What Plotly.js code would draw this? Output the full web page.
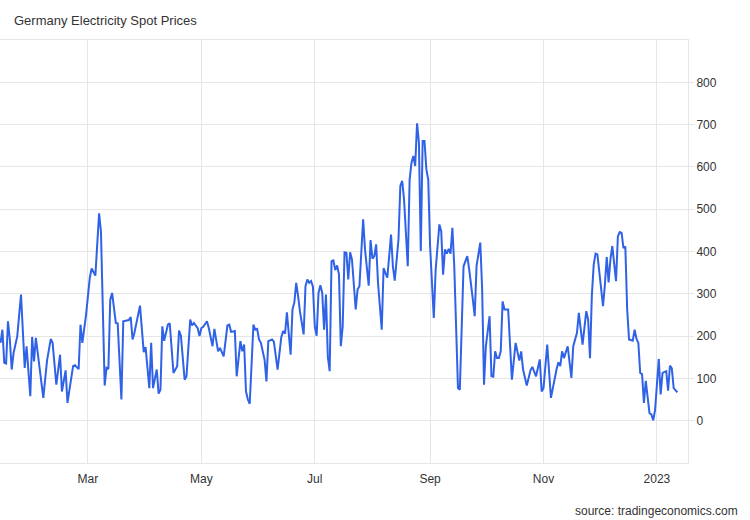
<!DOCTYPE html>
<html>
<head>
<meta charset="utf-8">
<script src="https://cdn.plot.ly/plotly-3.0.1.min.js"></script>
<style>
  html, body { margin: 0; padding: 0; background: #ffffff; }
  #chart { width: 750px; height: 520px; }
</style>
</head>
<body>
<div id="chart"></div>
<script>
// Day number counted from 2022-01-01 (day 0) for each reading
const dayIndex = [
  12,13,14,15,16,17,18,19,21,23,
  25,26,28,29,30,31,35,37,39,40,
  42,44,45,47,48,49,51,52,54,55,
  56,58,60,61,63,65,66,68,69,70,
  71,72,74,75,77,78,81,82,83,84,
  87,89,90,92,93,94,96,97,98,99,
  100,102,103,105,107,108,109,111,112,114,
  115,116,118,119,120,121,123,124,126,127,
  129,130,132,134,135,136,138,139,141,142,
  143,144,145,146,148,149,150,151,152,154,
  155,156,158,159,161,163,164,165,166,168,
  169,170,171,172,173,175,176,177,178,179,
  180,181,182,183,184,185,186,187,188,189,
  190,191,192,193,194,195,196,197,198,199,
  200,201,203,204,205,207,208,210,211,212,
  213,214,215,217,218,219,220,222,223,224,
  226,227,228,229,231,232,233,234,235,236,
  237,238,239,240,241,242,243,245,246,248,
  249,250,251,252,253,254,255,256,258,259,
  260,261,263,264,266,267,268,270,271,272,
  273,275,276,277,278,279,280,281,282,283,
  285,287,289,291,292,293,295,297,298,300,
  302,303,304,306,308,310,311,312,313,314,
  315,317,319,320,322,323,324,325,327,328,
  329,330,331,332,333,335,336,337,338,339,
  340,341,342,343,344,345,346,347,348,349,
  350,351,352,353,354,355,356,357,358,359,
  360,361,362,363,364,366,367,368,370,371,
  372,373,374,376
];

// Spot price (EUR/MWh)
const price = [
  184,215,137,135,235,192,121,160,200,298,
  125,176,58,198,140,196,54,142,193,184,
  85,156,69,119,42,75,129,131,122,227,
  184,251,338,360,343,490,448,83,125,122,
  286,302,231,230,50,235,238,245,192,208,
  272,162,174,77,184,77,121,64,73,223,
  189,227,230,113,129,213,201,97,105,239,
  225,231,219,200,219,222,235,219,176,217,
  164,172,152,225,227,210,212,105,188,164,
  180,69,50,40,227,215,217,192,184,144,
  93,188,192,187,121,198,212,206,256,156,
  263,279,326,295,259,204,318,334,326,330,
  317,223,201,302,320,302,215,298,152,117,
  377,379,356,367,346,176,222,398,397,334,
  398,381,263,310,318,476,405,319,427,383,
  389,417,326,215,361,349,338,440,365,331,
  428,555,567,523,365,570,610,626,602,703,
  657,401,661,661,594,570,413,243,357,464,
  448,345,405,395,406,395,456,366,77,73,
  251,365,389,359,286,247,366,421,312,85,
  176,247,105,104,164,148,148,164,282,263,
  263,97,184,142,164,121,83,119,127,105,
  145,69,77,180,54,105,121,138,129,164,
  148,176,101,176,208,255,208,180,259,239,
  148,296,369,395,393,309,271,321,387,327,
  382,413,366,330,436,446,444,408,412,263,
  192,191,189,215,194,184,113,110,42,94,
  58,18,15,1,25,146,62,113,117,71,
  130,124,77,67
];

const xTickDates = ['2022-03-01','2022-05-01','2022-07-01','2022-09-01','2022-11-01','2023-01-01'];
const xTickLabels = ['Mar','May','Jul','Sep','Nov','2023'];
const yTickValues = [0,100,200,300,400,500,600,700,800];

const chartTitle = 'Germany Electricity Spot Prices';
const sourceText = 'source: tradingeconomics.com';

const base = Date.UTC(2022, 0, 1);
const dates = dayIndex.map(d => new Date(base + d * 86400000).toISOString().slice(0, 10));

const font = "'Liberation Sans', Arial, sans-serif";
const gridColor = '#e6e6e6';

const trace = {
  x: dates,
  y: price,
  type: 'scatter',
  mode: 'lines',
  line: { color: '#2f62e6', width: 2 },
  hoverinfo: 'x+y'
};

const layout = {
  width: 750,
  height: 520,
  margin: { l: 0, r: 62, t: 40, b: 57 },
  paper_bgcolor: '#ffffff',
  plot_bgcolor: '#ffffff',
  showlegend: false,
  font: { family: font, size: 12, color: '#333333' },
  title: {
    text: chartTitle,
    font: { family: font, size: 13, color: '#333333' },
    xref: 'container', yref: 'container',
    x: 14 / 750, xanchor: 'left',
    y: 1 - 20 / 520, yanchor: 'middle'
  },
  xaxis: {
    type: 'date',
    range: ['2022-01-12 17:00', '2023-01-17 17:00'],
    tickmode: 'array',
    tickvals: xTickDates,
    ticktext: xTickLabels,
    showgrid: true,
    gridcolor: gridColor,
    gridwidth: 1,
    showline: true,
    mirror: true,
    linecolor: gridColor,
    linewidth: 1,
    ticks: '',
    zeroline: false,
    tickfont: { family: font, size: 12, color: '#333333' },
    ticklabelstandoff: 5
  },
  yaxis: {
    side: 'right',
    range: [-100, 900],
    tickmode: 'array',
    tickvals: yTickValues,
    showgrid: true,
    gridcolor: gridColor,
    gridwidth: 1,
    showline: true,
    linecolor: gridColor,
    linewidth: 1,
    ticks: 'outside',
    ticklen: 5,
    tickcolor: gridColor,
    zeroline: false,
    tickfont: { family: font, size: 12, color: '#333333' }
  },
  annotations: [{
    text: sourceText,
    xref: 'paper', yref: 'paper',
    x: 1, y: 0,
    xanchor: 'right', yanchor: 'middle',
    xshift: 52, yshift: -48,
    showarrow: false,
    font: { family: font, size: 12, color: '#333333' }
  }]
};

Plotly.newPlot('chart', [trace], layout, { displayModeBar: false, staticPlot: true });
</script>
</body>
</html>
